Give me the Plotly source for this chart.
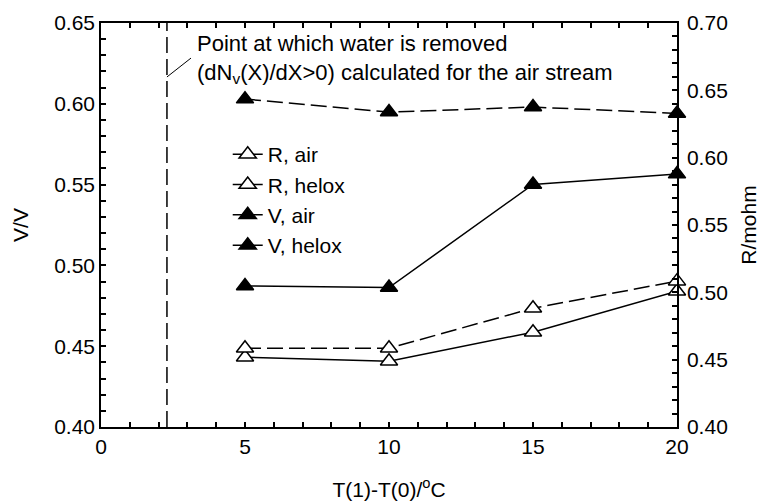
import plotly.graph_objects as go

x_vals = [5, 10, 15, 20]
r_air = [0.4518, 0.4488, 0.4704, 0.5008]      # right axis, R/mohm
r_helox = [0.4585, 0.4585, 0.4882, 0.5083]    # right axis, R/mohm
v_air = [0.4873, 0.4863, 0.5501, 0.5565]      # left axis, V/V
v_helox = [0.6029, 0.5949, 0.5980, 0.5940]    # left axis, V/V
water_x = 2.29
note_lines = ["Point at which water is removed",
              "(dN<sub>v</sub>(X)/dX>0) calculated for the air stream"]

FONT = "Liberation Sans, Arial, sans-serif"
fs = 21
lw = 1.5
fig = go.Figure()

series = [
    ("R, air", r_air, "y2", "solid", False),
    ("R, helox", r_helox, "y2", "16px,6px", False),
    ("V, air", v_air, "y", "solid", True),
    ("V, helox", v_helox, "y", "16px,6px", True),
]
for name, ys, ax, dash, filled in series:
    mk = dict(symbol="triangle-up", size=15, color="black" if filled else "white",
              line=dict(color="black", width=lw))
    fig.add_trace(go.Scatter(x=x_vals, y=ys, yaxis=ax, mode="lines+markers",
                             line=dict(color="black", width=lw, dash=dash),
                             marker=mk, showlegend=False, cliponaxis=False))
    fig.add_trace(go.Scatter(x=[None], y=[None], yaxis=ax, mode="lines+markers", name=name,
                             line=dict(color="black", width=lw, dash="solid"), marker=mk))

fig.add_shape(type="line", xref="x", yref="paper", x0=water_x, x1=water_x, y0=0, y1=1,
              line=dict(color="black", width=lw, dash="16px,6px"))
fig.add_shape(type="line", xref="x", yref="y", x0=water_x, y0=0.6166, x1=3.125, y1=0.6283,
              line=dict(color="black", width=1))
fig.add_annotation(x=3.26, y=0.6277, xref="x", yref="y", xanchor="left", yanchor="middle",
                   text="<br>".join(note_lines), showarrow=False, align="left",
                   font=dict(family=FONT, size=22, color="black"))

axis_common = dict(showline=True, linecolor="black", linewidth=1.5, ticks="inside",
                   ticklen=5, tickwidth=1.5, tickcolor="black", showgrid=False, zeroline=False,
                   automargin=False,
                   tickfont=dict(family=FONT, size=fs, color="black"))

fig.update_layout(
    width=768, height=504,
    margin=dict(l=101, r=91, t=23, b=77),
    plot_bgcolor="white", paper_bgcolor="white",
    font=dict(family=FONT, size=fs, color="black"),
    xaxis=dict(range=[0, 20], tickvals=[0, 5, 10, 15, 20], mirror="ticks",
               minor=dict(ticks="inside", dtick=1, ticklen=5, tickwidth=1.5, tickcolor="black"),
               title=dict(text="T(1)-T(0)/<sup>o</sup>C", standoff=25, font=dict(family=FONT, size=fs)),
               **axis_common),
    yaxis=dict(range=[0.40, 0.65], tickvals=[0.40, 0.45, 0.50, 0.55, 0.60, 0.65], tickformat=".2f",
               minor=dict(ticks="inside", dtick=0.01, ticklen=5, tickwidth=1.5, tickcolor="black"),
               title=dict(text="V/V", standoff=20, font=dict(family=FONT, size=fs)),
               **axis_common),
    yaxis2=dict(range=[0.40, 0.70], overlaying="y", side="right", tickformat=".2f",
                tickvals=[0.40, 0.45, 0.50, 0.55, 0.60, 0.65, 0.70],
                minor=dict(ticks="inside", dtick=0.01, ticklen=5, tickwidth=1.5, tickcolor="black"),
                title=dict(text="R/mohm", standoff=14, font=dict(family=FONT, size=fs)),
                ticklabelstandoff=4,
                **axis_common),
    legend=dict(x=0.22, y=0.725, xanchor="left", yanchor="top", bgcolor="rgba(0,0,0,0)",
                font=dict(family=FONT, size=fs), tracegroupgap=0),
    showlegend=True,
)

fig.write_html("out.html")
